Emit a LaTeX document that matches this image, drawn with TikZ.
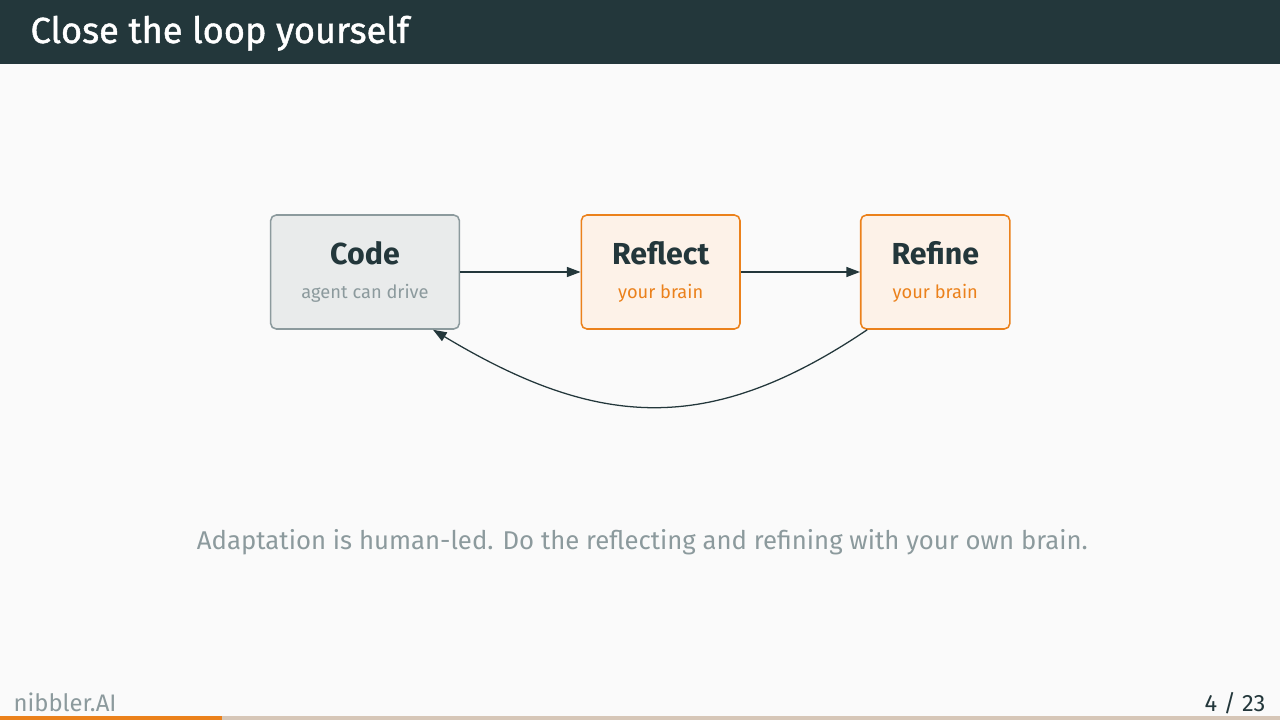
\documentclass[tikz,border=0pt]{standalone}
\usepackage{fontspec}
\setmainfont{Fira Sans}
\newfontfamily\headfont[FakeBold=1.2]{Fira Sans}
\usepackage{tikz}
\usetikzlibrary{arrows.meta, positioning}
\definecolor{mydark}{RGB}{35,55,59}
\definecolor{myorange}{RGB}{235,129,27}
\definecolor{mybg}{RGB}{250,250,250}
\definecolor{mygray}{RGB}{140,154,157}
\definecolor{hdrgray}{RGB}{233,235,235}
\definecolor{hdrorange}{RGB}{253,242,232}
\definecolor{mybar}{RGB}{214,198,183}
\tikzset{
  stepbox/.style={rectangle, align=center, minimum height=14.25mm,
    inner xsep=3.85mm, rounded corners=0.7mm, line width=0.55pt,
    font=\fontsize{6.5}{11.8}\selectfont},
  graybox/.style={stepbox, draw=mygray, fill=hdrgray},
  orangebox/.style={stepbox, draw=myorange, fill=hdrorange},
  arrow/.style={-{Triangle[length=1.7mm, width=1.25mm]}, line width=0.45pt, color=mydark}
}
\newcommand{\boxtitle}[1]{{\fontsize{10.8}{11.8}\selectfont\bfseries\color{mydark}#1}}

\begin{document}
\begin{tikzpicture}[node distance=1.5cm]
  % slide background, header and progress bar
  \fill[mybg] (0,0) rectangle (16,9);
  \fill[mydark] (0,8.2) rectangle (16,9);
  \fill[mybar] (0,0) rectangle (16,0.05);
  \fill[myorange] (0,0) rectangle (2.775,0.05);
  \node[anchor=base west, text=white, inner sep=0pt,
    font=\headfont\fontsize{12.9}{14}\selectfont] (title) at (0.375,8.4625) {Close the loop yourself};

  % loop
  \node[graybox] (code) at (4.5625,5.6) {\boxtitle{Code}\\{\color{mygray}agent can drive}};
  \node[orangebox, right=1.505cm of code] (reflect) {\boxtitle{Reflect}\\{\color{myorange}your brain}};
  \node[orangebox, right=1.49cm of reflect] (refine) {\boxtitle{Refine}\\{\color{myorange}your brain}};

  \draw[arrow] (code) -- (reflect);
  \draw[arrow] (reflect) -- (refine);
  \draw[arrow] ([xshift=0.9mm]refine.south west) to[out=-146, in=-31, looseness=1.13] ([xshift=8.5mm]code.south);

  \node[anchor=base, text=mygray, inner sep=0pt, font=\fontsize{9.15}{10}\selectfont]
    (note) at (8.03,2.1375) {Adaptation is human-led. Do the reflecting and refining with your own brain.};

  % footer
  \node[anchor=base west, text=mygray, inner sep=0pt, font=\fontsize{8.5}{10}\selectfont]
    (brand) at (0.1625,0.1125) {nibbler.AI};
  \node[anchor=base east, text=mydark, inner sep=0pt, font=\fontsize{8.4}{10}\selectfont]
    (page) at (15.825,0.1125) {4 / 23};
\end{tikzpicture}
\end{document}
